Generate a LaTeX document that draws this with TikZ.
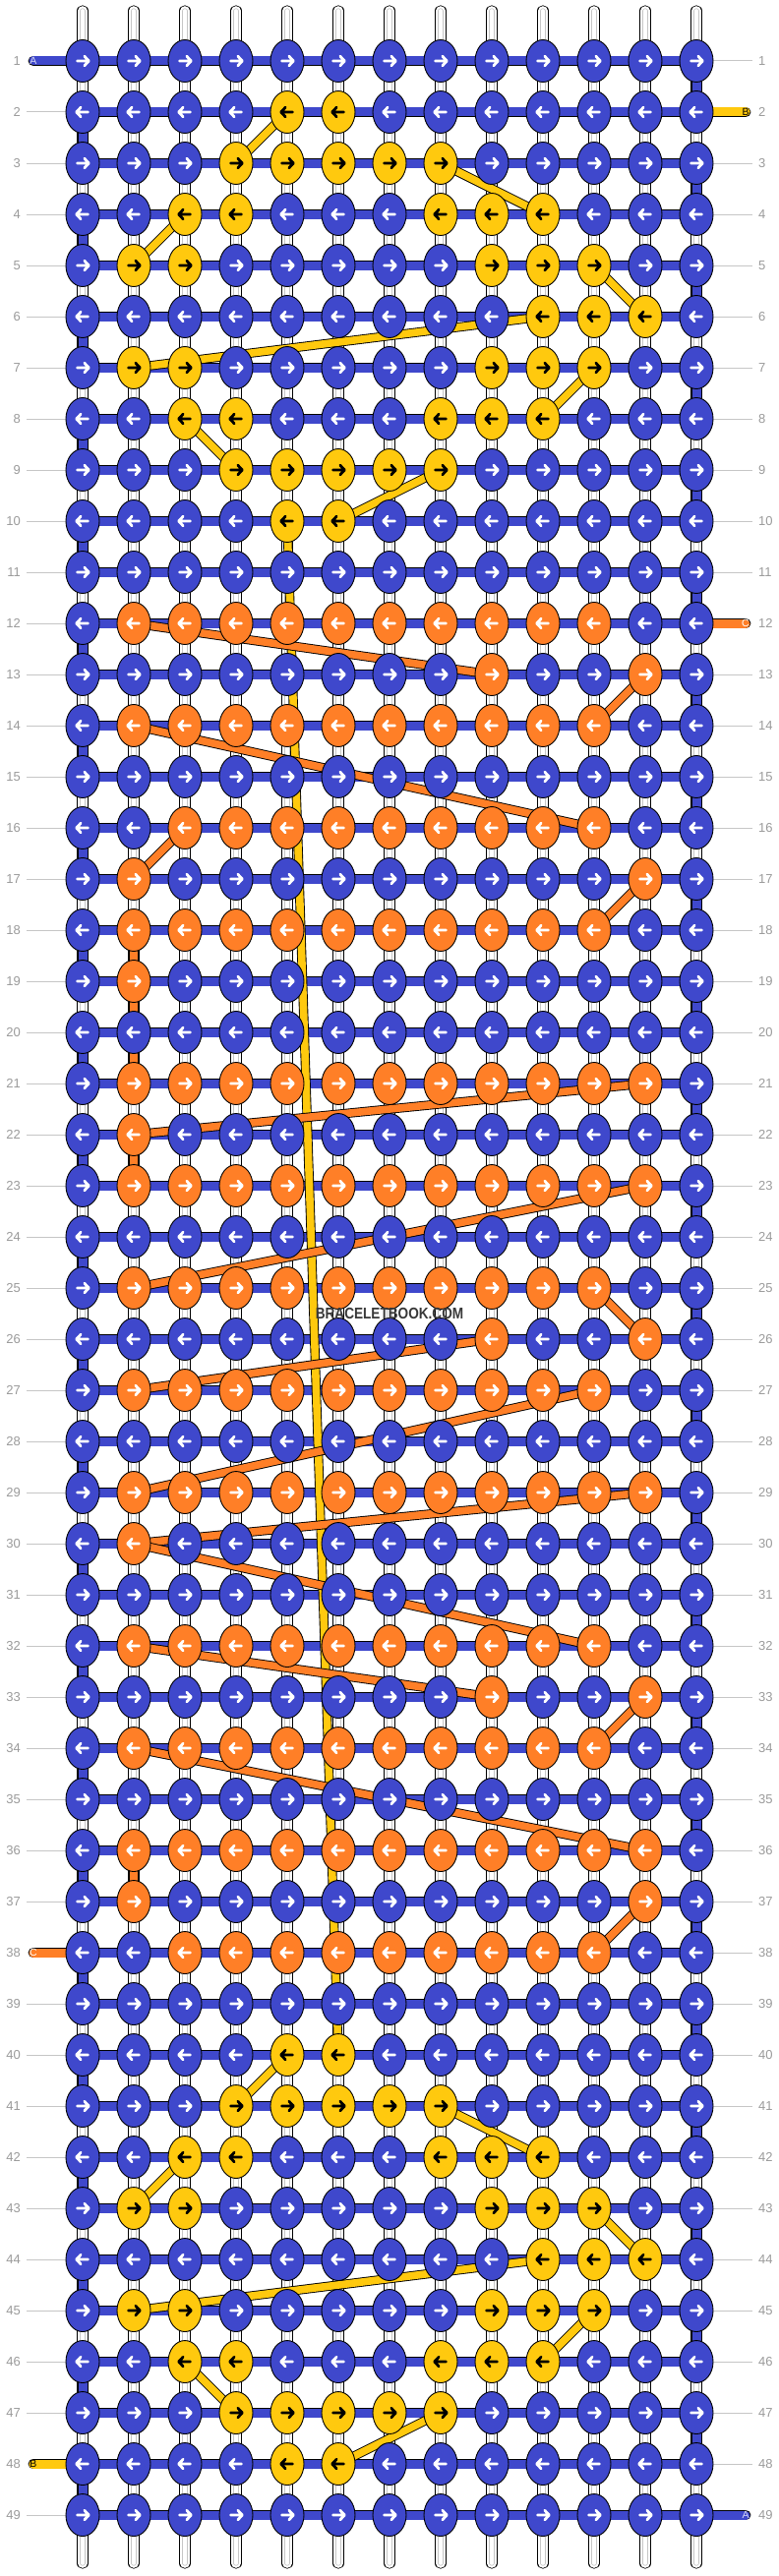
\documentclass[tikz,border=0pt]{standalone}
\usepackage{fontspec}
\setmainfont{Liberation Sans}
\usepackage{graphicx}
\usetikzlibrary{shapes.geometric}
\definecolor{blueA}{HTML}{3F48CC}
\definecolor{yellowB}{HTML}{FFC90E}
\definecolor{orangeC}{HTML}{FF7F27}
\definecolor{labgray}{HTML}{9A9A9A}
\definecolor{linegray}{HTML}{C6C6C6}
\pgfdeclarelayer{strings}
\pgfdeclarelayer{links}
\pgfsetlayers{strings,links,main}

\begin{document}
\begin{tikzpicture}[x=1pt, y=1pt,
    knot/.style={ellipse, draw=black, line width=0.9pt, minimum width=34pt, minimum height=43pt, inner sep=0pt},
    knot a/.style={knot, fill=blueA},
    knot b/.style={knot, fill=yellowB},
    knot c/.style={knot, fill=orangeC},
    arr/.style={line width=2.8pt, line cap=round, line join=round},
    arr a/.style={arr, draw=white},
    arr b/.style={arr, draw=black},
    arr c/.style={arr, draw=white},
    cord/.style={draw=black, line width=0.9pt, double distance=9pt},
    weft/.style={cord, double=blueA},
    warp/.style={draw=black, line width=0.8pt, double=white, double distance=9.6pt, line cap=round,
        postaction={draw=linegray, line width=0.8pt, double=white, double distance=3.6pt, line cap=round}},
    stub a/.style={cord, double=blueA, line cap=round},
    stub b/.style={cord, double=yellowB, line cap=round},
    stub c/.style={cord, double=orangeC, line cap=round},
    link b/.style={draw=black, line width=0.9pt, double=yellowB, double distance=7.6pt},
    link c/.style={draw=black, line width=0.9pt, double=orangeC, double distance=7.6pt},
    rowlab/.style={inner sep=0pt, text=labgray, font=\fontsize{13}{13}\selectfont},
    rowline/.style={draw=linegray, line width=1pt},
    tablab/.style={inner sep=0pt, font=\fontsize{10.5}{10.5}\selectfont}
]
\useasboundingbox (0,0) rectangle (792,-2620);

\foreach \r/\lst in {
    1/{a,a,a,a,a,a,a,a,a,a,a,a,a},
    2/{a,a,a,a,b,b,a,a,a,a,a,a,a},
    3/{a,a,a,b,b,b,b,b,a,a,a,a,a},
    4/{a,a,b,b,a,a,a,b,b,b,a,a,a},
    5/{a,b,b,a,a,a,a,a,b,b,b,a,a},
    6/{a,a,a,a,a,a,a,a,a,b,b,b,a},
    7/{a,b,b,a,a,a,a,a,b,b,b,a,a},
    8/{a,a,b,b,a,a,a,b,b,b,a,a,a},
    9/{a,a,a,b,b,b,b,b,a,a,a,a,a},
    10/{a,a,a,a,b,b,a,a,a,a,a,a,a},
    11/{a,a,a,a,a,a,a,a,a,a,a,a,a},
    12/{a,c,c,c,c,c,c,c,c,c,c,a,a},
    13/{a,a,a,a,a,a,a,a,c,a,a,c,a},
    14/{a,c,c,c,c,c,c,c,c,c,c,a,a},
    15/{a,a,a,a,a,a,a,a,a,a,a,a,a},
    16/{a,a,c,c,c,c,c,c,c,c,c,a,a},
    17/{a,c,a,a,a,a,a,a,a,a,a,c,a},
    18/{a,c,c,c,c,c,c,c,c,c,c,a,a},
    19/{a,c,a,a,a,a,a,a,a,a,a,a,a},
    20/{a,a,a,a,a,a,a,a,a,a,a,a,a},
    21/{a,c,c,c,c,c,c,c,c,c,c,c,a},
    22/{a,c,a,a,a,a,a,a,a,a,a,a,a},
    23/{a,c,c,c,c,c,c,c,c,c,c,c,a},
    24/{a,a,a,a,a,a,a,a,a,a,a,a,a},
    25/{a,c,c,c,c,c,c,c,c,c,c,a,a},
    26/{a,a,a,a,a,a,a,a,c,a,a,c,a},
    27/{a,c,c,c,c,c,c,c,c,c,c,a,a},
    28/{a,a,a,a,a,a,a,a,a,a,a,a,a},
    29/{a,c,c,c,c,c,c,c,c,c,c,c,a},
    30/{a,c,a,a,a,a,a,a,a,a,a,a,a},
    31/{a,a,a,a,a,a,a,a,a,a,a,a,a},
    32/{a,c,c,c,c,c,c,c,c,c,c,a,a},
    33/{a,a,a,a,a,a,a,a,c,a,a,c,a},
    34/{a,c,c,c,c,c,c,c,c,c,c,a,a},
    35/{a,a,a,a,a,a,a,a,a,a,a,a,a},
    36/{a,c,c,c,c,c,c,c,c,c,c,c,a},
    37/{a,c,a,a,a,a,a,a,a,a,a,c,a},
    38/{a,a,c,c,c,c,c,c,c,c,c,a,a},
    39/{a,a,a,a,a,a,a,a,a,a,a,a,a},
    40/{a,a,a,a,b,b,a,a,a,a,a,a,a},
    41/{a,a,a,b,b,b,b,b,a,a,a,a,a},
    42/{a,a,b,b,a,a,a,b,b,b,a,a,a},
    43/{a,b,b,a,a,a,a,a,b,b,b,a,a},
    44/{a,a,a,a,a,a,a,a,a,b,b,b,a},
    45/{a,b,b,a,a,a,a,a,b,b,b,a,a},
    46/{a,a,b,b,a,a,a,b,b,b,a,a,a},
    47/{a,a,a,b,b,b,b,b,a,a,a,a,a},
    48/{a,a,a,a,b,b,a,a,a,a,a,a,a},
    49/{a,a,a,a,a,a,a,a,a,a,a,a,a}} {
  \pgfmathsetmacro{\dir}{1-2*mod(\r+1,2)}
  \foreach \k [count=\c] in \lst {
    \node[knot \k] (knot_\r_\c) at ({84+52*(\c-1)},{-62-52*(\r-1)}) {};
    \begin{scope}[shift={(knot_\r_\c.center)}, xscale=\dir]
      \draw[arr \k] (-5.5,0) -- (6,0) (1.8,4.8) -- (6.3,0) -- (1.8,-4.8);
    \end{scope}
  }
}

\foreach \r in {1,...,49} {
  \node[rowlab, anchor=east] (lab_left_\r) at (21,{-62-52*(\r-1)}) {\r};
  \node[rowlab, anchor=west] (lab_right_\r) at (771,{-62-52*(\r-1)}) {\r};
}
\foreach \c in {1,...,13} {
  \coordinate (top_\c) at ({84+52*(\c-1)},-11);
  \coordinate (bot_\c) at ({84+52*(\c-1)},-2607);
}

\node[tablab, text=white!80!blueA] (tab_a_in) at (34,-62) {A};
\node[tablab, text=black] (tab_b_in) at (758,-114) {B};
\node[tablab, text=white] (tab_c_in) at (758,-634) {C};
\node[tablab, text=white] (tab_c_out) at (34,-1986) {C};
\node[tablab, text=black] (tab_b_out) at (34,-2506) {B};
\node[tablab, text=white!80!blueA] (tab_a_out) at (758,-2558) {A};

\node[font=\bfseries\fontsize{16}{16}\selectfont, text=black!78] (site_mark) at (396,-1336) {\scalebox{0.85}[1]{BRACELETBOOK.COM}};

\begin{pgfonlayer}{strings}
  \foreach \c in {1,...,13}
    \draw[warp] (top_\c) -- (bot_\c);
  \foreach \r in {1,...,49}
    \draw[weft] (knot_\r_1.center) -- (knot_\r_13.center);
  \foreach \r [evaluate=\r as \s using int(\r+1)] in {2,4,...,48}
    \draw[weft] (knot_\r_1.center) -- (knot_\s_1.center);
  \foreach \r [evaluate=\r as \s using int(\r+1)] in {1,3,...,47}
    \draw[weft] (knot_\r_13.center) -- (knot_\s_13.center);
  \draw[stub a] (tab_a_in.center) -- (knot_1_1.center);
  \draw[stub b] (tab_b_in.center) -- (knot_2_13.center);
  \draw[stub c] (tab_c_in.center) -- (knot_12_13.center);
  \draw[stub c] (tab_c_out.center) -- (knot_38_1.center);
  \draw[stub b] (tab_b_out.center) -- (knot_48_1.center);
  \draw[stub a] (tab_a_out.center) -- (knot_49_13.center);
  \foreach \r in {2,3,...,37,39,40,...,47,49}
    \draw[rowline] ([xshift=6pt]lab_left_\r.east) -- (knot_\r_1.west);
  \foreach \r in {1,3,4,...,11,13,14,...,48}
    \draw[rowline] (knot_\r_13.east) -- ([xshift=-6pt]lab_right_\r.west);
\end{pgfonlayer}

\begin{pgfonlayer}{links}
  \foreach \ra/\ca/\rb/\cb in {2/5/3/4, 3/8/4/10, 4/3/5/2, 5/11/6/12, 6/10/7/2, 7/11/8/10, 8/3/9/4, 9/8/10/6,
      10/5/40/6, 40/5/41/4, 41/8/42/10, 42/3/43/2, 43/11/44/12, 44/10/45/2, 45/11/46/10, 46/3/47/4, 47/8/48/6}
    \draw[link b] (knot_\ra_\ca.center) -- (knot_\rb_\cb.center);
  \foreach \ra/\ca/\rb/\cb in {12/2/13/9, 13/12/14/11, 14/2/16/11, 16/3/17/2, 17/12/18/11, 18/2/19/2, 19/2/21/2,
      21/12/22/2, 22/2/23/2, 23/12/25/2, 25/11/26/12, 26/9/27/2, 27/11/29/2, 29/12/30/2, 30/2/32/11,
      32/2/33/9, 33/12/34/11, 34/2/36/12, 36/2/37/2, 37/12/38/11}
    \draw[link c] (knot_\ra_\ca.center) -- (knot_\rb_\cb.center);
\end{pgfonlayer}
\end{tikzpicture}
\end{document}
